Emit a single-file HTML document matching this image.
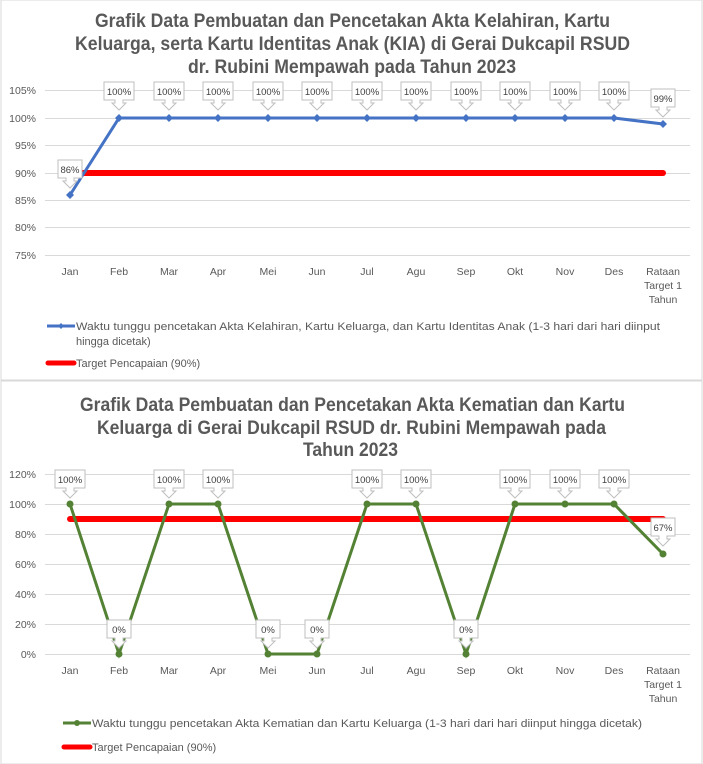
<!DOCTYPE html>
<html><head><meta charset="utf-8"><style>
html,body{margin:0;padding:0;background:#fff;}
svg{display:block;font-family:"Liberation Sans Narrow","Liberation Sans",sans-serif;}
.t{font-weight:bold;font-size:19px;fill:#595959;}
.ax{font-size:10.5px;fill:#595959;}
.lg{font-size:11px;fill:#595959;}
.lb{font-size:9.5px;fill:#404040;}
</style></head><body>
<svg width="703" height="764" viewBox="0 0 703 764" xmlns="http://www.w3.org/2000/svg">
<rect x="1" y="0" width="701" height="380" fill="#fff" stroke="#d9d9d9"/>
<rect x="1" y="381" width="701" height="383" fill="#fff" stroke="#d9d9d9"/>
<text class="t" x="95" y="27" textLength="515" lengthAdjust="spacingAndGlyphs">Grafik Data  Pembuatan dan Pencetakan Akta Kelahiran, Kartu</text>
<text class="t" x="75" y="50" textLength="555" lengthAdjust="spacingAndGlyphs">Keluarga, serta Kartu Identitas Anak (KIA)  di Gerai Dukcapil RSUD</text>
<text class="t" x="188" y="73" textLength="328" lengthAdjust="spacingAndGlyphs">dr. Rubini Mempawah pada Tahun 2023</text>
<g stroke="#d9d9d9" stroke-width="1">
<line x1="45" x2="690" y1="90.5" y2="90.5"/><line x1="45" x2="690" y1="118.5" y2="118.5"/><line x1="45" x2="690" y1="145.5" y2="145.5"/><line x1="45" x2="690" y1="173.5" y2="173.5"/><line x1="45" x2="690" y1="200.5" y2="200.5"/><line x1="45" x2="690" y1="227.5" y2="227.5"/><line x1="45" x2="690" y1="255.5" y2="255.5"/>
</g>
<g class="ax" text-anchor="end">
<text x="36" y="94">105%</text><text x="36" y="122">100%</text><text x="36" y="149">95%</text><text x="36" y="177">90%</text><text x="36" y="204">85%</text><text x="36" y="231">80%</text><text x="36" y="259">75%</text>
</g>
<g class="ax" text-anchor="middle">
<text x="70" y="275">Jan</text><text x="119" y="275">Feb</text><text x="169" y="275">Mar</text><text x="218" y="275">Apr</text><text x="268" y="275">Mei</text><text x="317" y="275">Jun</text><text x="367" y="275">Jul</text><text x="416" y="275">Agu</text><text x="466" y="275">Sep</text><text x="515" y="275">Okt</text><text x="565" y="275">Nov</text><text x="614" y="275">Des</text>
<text x="663" y="275">Rataan</text><text x="663" y="289">Target 1</text><text x="663" y="303">Tahun</text>
</g>
<line x1="70" x2="663" y1="173" y2="173" stroke="#ff0000" stroke-width="6" stroke-linecap="round"/>
<polyline fill="none" stroke="#4472c4" stroke-width="3" points="70,195 119,118 169,118 218,118 268,118 317,118 367,118 416,118 466,118 515,118 565,118 614,118 663,124"/>
<g fill="#4472c4">
<path d="M70,191l4,4l-4,4l-4,-4z"/><path d="M119,114l4,4l-4,4l-4,-4z"/><path d="M169,114l4,4l-4,4l-4,-4z"/><path d="M218,114l4,4l-4,4l-4,-4z"/><path d="M268,114l4,4l-4,4l-4,-4z"/><path d="M317,114l4,4l-4,4l-4,-4z"/><path d="M367,114l4,4l-4,4l-4,-4z"/><path d="M416,114l4,4l-4,4l-4,-4z"/><path d="M466,114l4,4l-4,4l-4,-4z"/><path d="M515,114l4,4l-4,4l-4,-4z"/><path d="M565,114l4,4l-4,4l-4,-4z"/><path d="M614,114l4,4l-4,4l-4,-4z"/><path d="M663,120l4,4l-4,4l-4,-4z"/>
</g>
<defs>
<path id="co" d="M-15,0H15V18H4V21H7L0,28L-7,21H-4V18H-15Z" fill="#fff" stroke="#bfbfbf"/>
<path id="cs" d="M-12,0H12V18H4V21H7L0,28L-7,21H-4V18H-12Z" fill="#fff" stroke="#bfbfbf"/>
</defs>
<g class="lb" text-anchor="middle">
<use href="#cs" x="70" y="160"/><text x="70" y="173">86%</text>
<use href="#co" x="119" y="82"/><text x="119" y="95">100%</text>
<use href="#co" x="169" y="82"/><text x="169" y="95">100%</text>
<use href="#co" x="218" y="82"/><text x="218" y="95">100%</text>
<use href="#co" x="268" y="82"/><text x="268" y="95">100%</text>
<use href="#co" x="317" y="82"/><text x="317" y="95">100%</text>
<use href="#co" x="367" y="82"/><text x="367" y="95">100%</text>
<use href="#co" x="416" y="82"/><text x="416" y="95">100%</text>
<use href="#co" x="466" y="82"/><text x="466" y="95">100%</text>
<use href="#co" x="515" y="82"/><text x="515" y="95">100%</text>
<use href="#co" x="565" y="82"/><text x="565" y="95">100%</text>
<use href="#co" x="614" y="82"/><text x="614" y="95">100%</text>
<use href="#cs" x="663" y="89"/><text x="663" y="102">99%</text>
</g>
<line x1="47" x2="75" y1="326" y2="326" stroke="#4472c4" stroke-width="3"/><path d="M61,323l3,3l-3,3l-3,-3z" fill="#4472c4"/>
<text class="lg" x="76" y="330" textLength="584" lengthAdjust="spacingAndGlyphs">Waktu tunggu pencetakan Akta Kelahiran, Kartu Keluarga, dan Kartu Identitas Anak (1-3 hari dari hari diinput</text>
<text class="lg" x="76" y="345">hingga dicetak)</text>
<line x1="48" x2="74" y1="363" y2="363" stroke="#ff0000" stroke-width="5" stroke-linecap="round"/>
<text class="lg" x="76" y="367">Target Pencapaian (90%)</text>

<text class="t" x="80" y="411" textLength="545" lengthAdjust="spacingAndGlyphs">Grafik Data  Pembuatan dan Pencetakan Akta Kematian dan Kartu</text>
<text class="t" x="97" y="434" textLength="509" lengthAdjust="spacingAndGlyphs">Keluarga di Gerai Dukcapil RSUD dr. Rubini Mempawah pada</text>
<text class="t" x="303" y="456" textLength="95" lengthAdjust="spacingAndGlyphs">Tahun 2023</text>
<g stroke="#d9d9d9">
<line x1="45" x2="690" y1="474.5" y2="474.5"/><line x1="45" x2="690" y1="504.5" y2="504.5"/><line x1="45" x2="690" y1="534.5" y2="534.5"/><line x1="45" x2="690" y1="564.5" y2="564.5"/><line x1="45" x2="690" y1="594.5" y2="594.5"/><line x1="45" x2="690" y1="624.5" y2="624.5"/><line x1="45" x2="690" y1="654.5" y2="654.5"/>
</g>
<g class="ax" text-anchor="end">
<text x="36" y="478">120%</text><text x="36" y="508">100%</text><text x="36" y="538">80%</text><text x="36" y="568">60%</text><text x="36" y="598">40%</text><text x="36" y="628">20%</text><text x="36" y="658">0%</text>
</g>
<g class="ax" text-anchor="middle">
<text x="70" y="674">Jan</text><text x="119" y="674">Feb</text><text x="169" y="674">Mar</text><text x="218" y="674">Apr</text><text x="268" y="674">Mei</text><text x="317" y="674">Jun</text><text x="367" y="674">Jul</text><text x="416" y="674">Agu</text><text x="466" y="674">Sep</text><text x="515" y="674">Okt</text><text x="565" y="674">Nov</text><text x="614" y="674">Des</text>
<text x="663" y="674">Rataan</text><text x="663" y="688">Target 1</text><text x="663" y="702">Tahun</text>
</g>
<line x1="70" x2="663" y1="519" y2="519" stroke="#ff0000" stroke-width="6" stroke-linecap="round"/>
<polyline fill="none" stroke="#548235" stroke-width="3" points="70,504 119,654 169,504 218,504 268,654 317,654 367,504 416,504 466,654 515,504 565,504 614,504 663,554"/>
<g fill="#548235">
<circle cx="70" cy="504" r="3.5"/><circle cx="119" cy="654" r="3.5"/><circle cx="169" cy="504" r="3.5"/><circle cx="218" cy="504" r="3.5"/><circle cx="268" cy="654" r="3.5"/><circle cx="317" cy="654" r="3.5"/><circle cx="367" cy="504" r="3.5"/><circle cx="416" cy="504" r="3.5"/><circle cx="466" cy="654" r="3.5"/><circle cx="515" cy="504" r="3.5"/><circle cx="565" cy="504" r="3.5"/><circle cx="614" cy="504" r="3.5"/><circle cx="663" cy="554" r="3.5"/>
</g>
<g class="lb" text-anchor="middle">
<use href="#co" x="70" y="470"/><text x="70" y="483">100%</text>
<use href="#cs" x="119" y="620"/><text x="119" y="633">0%</text>
<use href="#co" x="169" y="470"/><text x="169" y="483">100%</text>
<use href="#co" x="218" y="470"/><text x="218" y="483">100%</text>
<use href="#cs" x="268" y="620"/><text x="268" y="633">0%</text>
<use href="#cs" x="317" y="620"/><text x="317" y="633">0%</text>
<use href="#co" x="367" y="470"/><text x="367" y="483">100%</text>
<use href="#co" x="416" y="470"/><text x="416" y="483">100%</text>
<use href="#cs" x="466" y="620"/><text x="466" y="633">0%</text>
<use href="#co" x="515" y="470"/><text x="515" y="483">100%</text>
<use href="#co" x="565" y="470"/><text x="565" y="483">100%</text>
<use href="#co" x="614" y="470"/><text x="614" y="483">100%</text>
<use href="#cs" x="663" y="518"/><text x="663" y="531">67%</text>
</g>
<line x1="63" x2="91" y1="723" y2="723" stroke="#548235" stroke-width="3"/><circle cx="77" cy="723" r="3" fill="#548235"/>
<text class="lg" x="92" y="727" textLength="550" lengthAdjust="spacingAndGlyphs">Waktu tunggu pencetakan Akta Kematian dan Kartu Keluarga (1-3 hari dari hari diinput hingga dicetak)</text>
<line x1="64" x2="90" y1="747" y2="747" stroke="#ff0000" stroke-width="5" stroke-linecap="round"/>
<text class="lg" x="92" y="751">Target Pencapaian (90%)</text>
</svg>
</body></html>
